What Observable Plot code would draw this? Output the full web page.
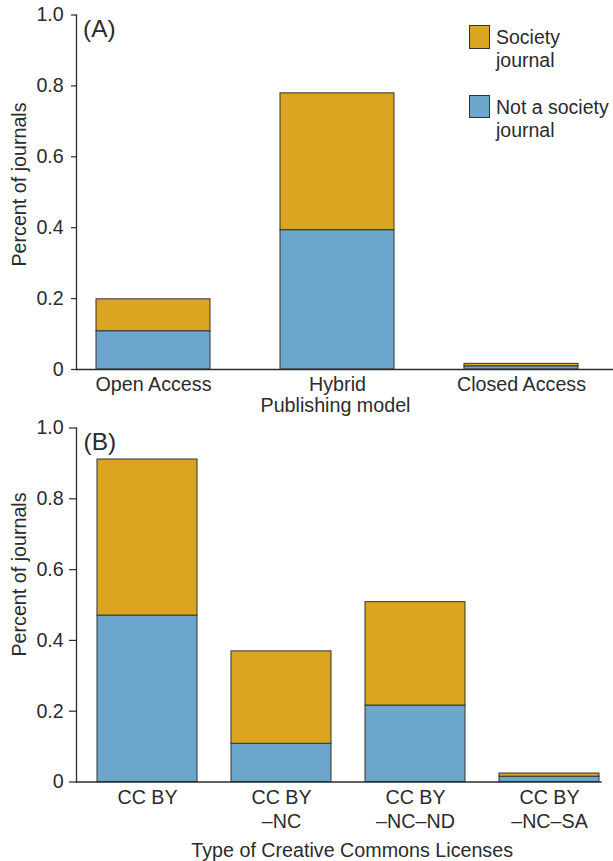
<!DOCTYPE html>
<html><head><meta charset="utf-8">
<script src="https://cdn.jsdelivr.net/npm/d3@7"></script>
<script src="https://cdn.jsdelivr.net/npm/@observablehq/plot@0.6"></script>
<style>
body{margin:0;background:#fff;}
#wrap{position:relative;width:613px;}
#wrap svg{display:block;}
.leg{position:absolute;font-family:"Liberation Sans",Arial,Helvetica,sans-serif;font-size:19.5px;line-height:23.5px;color:#2b2b2b;white-space:pre;}
.sw{position:absolute;box-sizing:border-box;border:1.2px solid #333;}
</style></head><body><div id="wrap"></div>
<script>
// ---- data ----
const stackOrder = ["Not a society journal", "Society journal"]; // bottom -> top
const legendGroups = ["Society journal", "Not a society journal"];
const legendLabels = ["Society\njournal", "Not a society\njournal"];
const groupColors = ["#DAA520", "#6CA6CD"];

const modelCategories = ["Open Access", "Hybrid", "Closed Access"];
const modelNotSociety = [0.108, 0.393, 0.009];
const modelSociety = [0.090, 0.386, 0.007];

const licenseCategories = ["CC BY", "CC BY-NC", "CC BY-NC-ND", "CC BY-NC-SA"];
const licenseTickLabels = ["CC BY", "CC BY\n\u2013NC", "CC BY\n\u2013NC\u2013ND", "CC BY\n\u2013NC\u2013SA"];
const licenseNotSociety = [0.470, 0.108, 0.216, 0.015];
const licenseSociety = [0.441, 0.261, 0.292, 0.009];

const yTicks = [0, 0.2, 0.4, 0.6, 0.8, 1.0];

// ---- tables ----
function rows(cats, notSoc, soc) {
  return cats.flatMap((c, i) => [
    {cat: c, group: stackOrder[0], value: notSoc[i]},
    {cat: c, group: stackOrder[1], value: soc[i]}
  ]);
}
const modelRows = rows(modelCategories, modelNotSociety, modelSociety);
const licenseRows = rows(licenseCategories, licenseNotSociety, licenseSociety);

const font = '"Liberation Sans", Arial, Helvetica, sans-serif';
const ink = "#2b2b2b";
const fs = 19.7;
const yFmt = d => d === 0 ? "0" : d.toFixed(1);
const colorScale = {domain: legendGroups, range: groupColors};

const topPlot = Plot.plot({
  width: 613, height: 420,
  marginTop: 14.5, marginBottom: 51, marginLeft: 76, marginRight: 0,
  style: {fontFamily: font, color: ink, background: "#fff", overflow: "visible"},
  x: {domain: modelCategories, range: [76, 597.4], paddingInner: 0.381, paddingOuter: 0.107, label: null},
  y: {domain: [0, 1], label: null},
  color: colorScale,
  marks: [
    Plot.barY(modelRows, {x: "cat", y: "value", fill: "group", stroke: "#333", strokeWidth: 1, order: stackOrder}),
    Plot.axisY({ticks: yTicks, tickSize: 5, tickPadding: 7.7, fontSize: fs, tickFormat: yFmt, label: null, strokeWidth: 1.2}),
    Plot.axisX({tickSize: 0, tickPadding: 7.5, fontSize: fs, label: null}),
    Plot.ruleY([0], {stroke: ink, strokeWidth: 1.3}),
    Plot.frame({anchor: "left", stroke: ink, strokeWidth: 1.3}),
    Plot.text(["(A)"], {text: d => d, frameAnchor: "top-left", textAnchor: "start", lineAnchor: "top", dx: 6.5, dy: 5, fontSize: 24.5}),
    Plot.text(["Percent of journals"], {text: d => d, frameAnchor: "left", textAnchor: "middle", rotate: -90, lineAnchor: "bottom", dx: -51, dy: -7.75, fontSize: fs}),
    Plot.text(["Publishing model"], {text: d => d, frameAnchor: "bottom", lineAnchor: "bottom", dx: -9.5, dy: 42.7, fontSize: fs})
  ]
});

const bottomPlot = Plot.plot({
  width: 613, height: 441,
  marginTop: 7.5, marginBottom: 79.5, marginLeft: 76, marginRight: 11.3,
  style: {fontFamily: font, color: ink, background: "#fff", overflow: "visible"},
  x: {domain: licenseCategories, range: [76, 620.4], paddingInner: 0.256, paddingOuter: 0.146, label: null},
  y: {domain: [0, 1], label: null},
  color: colorScale,
  marks: [
    Plot.barY(licenseRows, {x: "cat", y: "value", fill: "group", stroke: "#333", strokeWidth: 1, order: stackOrder}),
    Plot.axisY({ticks: yTicks, tickSize: 7, tickPadding: 5.7, fontSize: fs, tickFormat: yFmt, label: null, strokeWidth: 1.2}),
    Plot.axisX({tickSize: 0, tickPadding: 5.2, fontSize: fs, lineHeight: 1.22, label: null,
      tickFormat: d => licenseTickLabels[licenseCategories.indexOf(d)]}),
    Plot.ruleY([0], {stroke: ink, strokeWidth: 1.3}),
    Plot.frame({anchor: "left", stroke: ink, strokeWidth: 1.3}),
    Plot.text(["(B)"], {text: d => d, frameAnchor: "top-left", textAnchor: "start", lineAnchor: "top", dx: 7, dy: 5, fontSize: 24.5}),
    Plot.text(["Percent of journals"], {text: d => d, frameAnchor: "left", textAnchor: "middle", rotate: -90, lineAnchor: "bottom", dx: -51, dy: -30.5, fontSize: fs}),
    Plot.text(["Type of Creative Commons Licenses"], {text: d => d, frameAnchor: "bottom", lineAnchor: "bottom", dx: 12.8, dy: 75.2, fontSize: fs})
  ]
});

const wrap = document.getElementById("wrap");
wrap.appendChild(topPlot);
wrap.appendChild(bottomPlot);

// legend (HTML overlay, colours from the plot's colour scale)
const cs = topPlot.scale("color");
const legendTops = [25, 95];
cs.domain.forEach((g, i) => {
  const sw = document.createElement("div");
  sw.className = "sw";
  sw.style.left = "469.3px"; sw.style.top = legendTops[i] + "px";
  sw.style.width = "20.7px"; sw.style.height = (i === 0 ? 24 : 23.3) + "px";
  sw.style.background = cs.range[i];
  wrap.appendChild(sw);
  const t = document.createElement("div");
  t.className = "leg";
  t.style.left = "496px"; t.style.top = (legendTops[i] + 0.5) + "px";
  t.textContent = legendLabels[legendGroups.indexOf(g)];
  wrap.appendChild(t);
});
</script></body></html>
